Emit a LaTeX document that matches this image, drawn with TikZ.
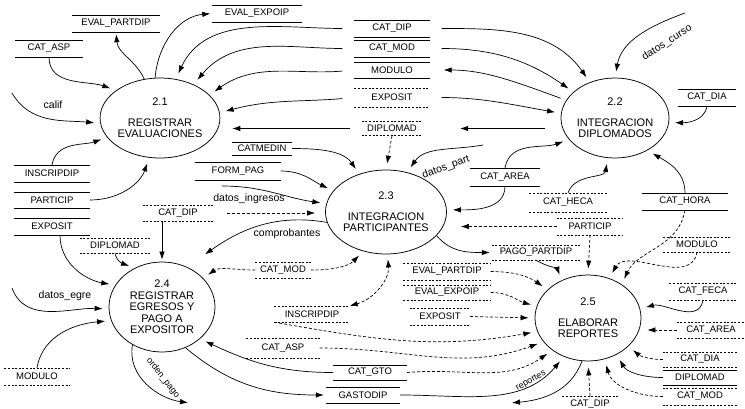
\documentclass[tikz,border=0pt]{standalone}
\usepackage{fontspec}
\setmainfont{Liberation Sans}
\usetikzlibrary{shapes.geometric,arrows.meta}
\newcommand\dfdStoreFont{\fontsize{9.5}{11}\selectfont}
\newcommand\dfdProcFont{\fontsize{11}{11.5}\selectfont}
\newcommand\dfdLblFont{\fontsize{10.5}{12}\selectfont}
\newcommand\dfdSmallFont{\fontsize{9}{10}\selectfont}
\begin{document}
\begin{tikzpicture}[x=1pt,y=1pt,
  sline/.style={line width=0.6pt},
  dline/.style={line width=0.5pt,dash pattern=on 2pt off 1.6pt},
  storebase/.style={font=\dfdStoreFont,inner sep=0pt,minimum height=17,minimum width=#1},
  store/.style={storebase=#1,append after command={(\tikzlastnode.north west) edge[sline] (\tikzlastnode.north east)
      (\tikzlastnode.south west) edge[sline] (\tikzlastnode.south east)}},
  dstore/.style={storebase=#1,append after command={(\tikzlastnode.north west) edge[dline] (\tikzlastnode.north east)
      (\tikzlastnode.south west) edge[dline] (\tikzlastnode.south east)}},
  proc/.style={ellipse,draw,line width=0.75pt,inner sep=0pt,minimum width=106,minimum height=80,align=center,font=\dfdProcFont},
  lbl/.style={font=\dfdLblFont,inner sep=0pt},
  slbl/.style={font=\dfdSmallFont,inner sep=0pt},
  flow/.style={line width=0.7pt,-{Latex[length=8pt,width=5.5pt]},shorten >=2pt},
  dflow/.style={flow,dash pattern=on 3pt off 2pt},
  toP/.style={shorten >=6pt},
  fromS/.style={shorten <=12pt}
]
\useasboundingbox (0,0) rectangle (745,-408);
% processes
\node[proc] (p21) at (160,-118) {2.1\\[9pt]REGISTRAR\\EVALUACIONES};
\node[proc] (p22) at (615,-118) {2.2\\[9pt]INTEGRACION\\DIPLOMADOS};
\node[proc,minimum width=110,minimum height=84] (p23) at (386,-212) {2.3\\[9pt]INTEGRACION\\PARTICIPANTES};
\node[proc,minimum height=90] (p24) at (162,-307) {2.4\\REGISTRAR\\EGRESOS Y\\PAGO A\\EXPOSITOR};
\node[proc,minimum height=86] (p25) at (588,-318) {2.5\\[9pt]ELABORAR\\REPORTES};
% stores top
\node[store=88] (sEvPart) at (116,-23.5) {EVAL\_PARTDIP};
\node[store=89] (sEvExpo) at (257,-13.5) {EVAL\_EXPOIP};
\node[store=68] (sCatAsp) at (49,-48.5) {CAT\_ASP};
\node[store=75] (sCatDipT) at (392,-28.5) {CAT\_DIP};
\node[store=75] (sCatModT) at (392,-48.5) {CAT\_MOD};
\node[store=75,minimum height=16] (sModT) at (392,-70) {MODULO};
\node[dstore=75,minimum height=19] (sExpT) at (392,-97.5) {EXPOSIT};
\node[dstore=60,minimum height=14] (sDipT) at (392,-128.5) {DIPLOMAD};
\node[store=58] (sCatDiaT) at (707,-97.5) {CAT\_DIA};
% stores left
\node[store=75] (sInsL) at (52,-173.5) {INSCRIPDIP};
\node[store=75,minimum height=16] (sParL) at (52,-200) {PARTICIP};
\node[store=75] (sExpL) at (52,-226.5) {EXPOSIT};
\node[dstore=70,minimum height=15] (sDipL) at (115,-245.5) {DIPLOMAD};
\node[dstore=70,minimum height=16] (sCatDipM) at (178,-213) {CAT\_DIP};
\node[store=60,minimum height=13] (sCatMed) at (262,-148.5) {CATMEDIN};
\node[store=85,minimum height=18] (sFormPag) at (238,-171) {FORM\_PAG};
\node[dstore=55,minimum height=16] (sCatModM) at (283,-270) {CAT\_MOD};
\node[dstore=75,minimum height=16] (sInsM) at (312,-314) {INSCRIPDIP};
\node[dstore=73,minimum height=20] (sCatAspM) at (283,-348) {CAT\_ASP};
\node[store=74,minimum height=15] (sCatGto) at (370,-372.5) {CAT\_GTO};
\node[store=74,minimum height=16] (sGasto) at (363,-395) {GASTODIP};
\node[dstore=65] (sModBL) at (37,-376.5) {MODULO};
% stores middle right
\node[store=70,minimum height=18] (sCatAreaM) at (505,-177) {CAT\_AREA};
\node[dstore=77,minimum height=19] (sCatHeca) at (568,-202.5) {CAT\_HECA};
\node[store=85] (sCatHora) at (685,-201.5) {CAT\_HORA};
\node[dstore=66] (sParR) at (590,-226.5) {PARTICIP};
\node[dstore=67,minimum height=15] (sModR) at (697,-244.5) {MODULO};
\node[dstore=88,minimum height=15] (sPago) at (536,-252.5) {PAGO\_PARTDIP};
\node[dstore=87] (sEvPartM) at (447,-271.5) {EVAL\_PARTDIP};
\node[dstore=87,minimum height=15] (sEvExpoM) at (447,-292.5) {EVAL\_EXPOIP};
\node[dstore=60] (sExpM) at (440,-316.5) {EXPOSIT};
% stores right
\node[dstore=67] (sCatFeca) at (703,-291.5) {CAT\_FECA};
\node[dstore=68,minimum height=16] (sCatAreaR) at (711,-330) {CAT\_AREA};
\node[dstore=74,minimum height=15] (sCatDiaR) at (700,-359.5) {CAT\_DIA};
\node[store=74,minimum height=15] (sDipR) at (700,-377.5) {DIPLOMAD};
\node[dstore=74] (sCatModR) at (700,-396.5) {CAT\_MOD};
\node[dstore=55,minimum height=16] (sCatDipB) at (590,-404) {CAT\_DIP};
% free ends
\coordinate (cCalif) at (12,-93);
\coordinate (cDcur) at (685,-13);
\coordinate (cDing) at (222,-186);
\coordinate (cDpart) at (483,-145);
\coordinate (cDegre) at (12,-288);
\coordinate (cOrden) at (190,-403);
\coordinate (cRep) at (510,-403);
% labels
\node[lbl] (lCalif) at (53,-105) {calif};
\node[lbl,rotate=33] (lDcur) at (667,-43) {datos\_curso};
\node[lbl] (lDing) at (249,-199) {datos\_ingresos};
\node[lbl] (lComp) at (287,-234) {comprobantes};
\node[lbl,rotate=20] (lDpart) at (446,-167) {datos\_part};
\node[lbl] (lDegre) at (65,-296) {datos\_egre};
\node[slbl,rotate=-52] (lOrden) at (163,-378) {orden\_pago};
\node[slbl,rotate=30] (lRep) at (531,-381) {reportes};
% flows around 2.1
\draw[flow,toP] (cCalif) to[out=-60,in=175] (p21.185);
\draw[flow,toP] (sCatAsp.south) to[out=-90,in=160] (p21.148);
\draw[flow] (p21.112) to[out=115,in=-85] (sEvPart.south);
\draw[flow] (p21.97) to[out=85,in=185] (sEvExpo.west);
\draw[flow,toP,fromS] (sCatDipT.west) to[out=180,in=65] (p21.68);
\draw[flow,toP,fromS] (sCatModT.west) to[out=180,in=50] (p21.45);
\draw[flow,toP,fromS] (sModT.west) to[out=185,in=35] (p21.25);
\draw[flow,toP,fromS] (sExpT.west) to[out=185,in=15] (p21.5);
\draw[flow,fromS,shorten >=12pt] (sDipT.west) -- (sDipT.west -| p21.east);
\draw[flow,toP] (sInsL.north) to[out=80,in=200] (p21.200);
\draw[flow,toP] (sParL.east) to[out=0,in=-110] (p21.-105);
% flows around 2.2
\draw[flow,toP,fromS] (sCatDipT.east) to[out=0,in=125] (p22.125);
\draw[flow,toP,fromS] (sCatModT.east) to[out=0,in=145] (p22.148);
\draw[flow,shorten <=6pt,shorten >=14pt] (p22.160) to[out=160,in=0] (sModT.east);
\draw[flow,toP,fromS] (sExpT.east) to[out=0,in=170] (p22.175);
\draw[flow,shorten <=16pt,shorten >=38pt] (sDipT.east -| p22.west) -- (sDipT.east);
\draw[flow,toP] (cDcur) to[out=200,in=80] (p22.90);
\draw[flow,toP] (sCatDiaT.south) to[out=-100,in=0] (p22.-5);
\draw[flow,toP] (sCatAreaM.north) to[out=80,in=200] (p22.205);
\draw[flow,toP] (sCatHeca.north) to[out=70,in=-100] (p22.-100);
\draw[flow,toP] (sCatHora.north) to[out=90,in=-30] (p22.-45);
% flows around 2.3
\draw[dflow,toP] (sDipT.south) -- (p23.north);
\draw[dflow,shorten <=14pt,shorten >=10pt] (sCatDipM.east) -- (sCatDipM.east -| p23.west);
\draw[flow,toP] (sCatMed.east) to[out=0,in=125] (p23.125);
\draw[flow,toP] (sFormPag.east) to[out=0,in=155] (p23.158);
\draw[flow,toP] (cDing) to[out=0,in=172] (p23.172);
\draw[flow,shorten >=22pt] (p23.190) to[out=170,in=35] (p24.58);
\draw[dflow,toP] (sCatModM.east) to[out=0,in=-135] (p23.-120);
\draw[dflow,{Latex[length=8pt,width=5.5pt]}-{Latex[length=8pt,width=5.5pt]},shorten >=5pt] (sInsM.north east) to[out=15,in=-85] (p23.-88);
\draw[flow,toP] (cDpart) to[out=190,in=55] (p23.62);
\draw[flow,toP] (sCatAreaM.south) to[out=-90,in=0] (p23.2);
\draw[dflow,shorten >=14pt] (sParR.west) -- (sParR.west -| p23.east);
\draw[flow] (p23.-25) to[out=-50,in=180] (sPago.west);
% flows around 2.4
\draw[flow,toP] ([xshift=8]sExpL.south) to[out=-90,in=170] (p24.155);
\draw[flow,toP] (sDipL.south) to[out=-80,in=160] (p24.125);
\draw[flow] (sCatDipM.south -| p24.north) -- (p24.north);
\draw[dflow,toP] (sCatModM.west) to[out=180,in=35] (p24.35);
\draw[flow,toP] (sCatGto.west) to[out=180,in=-25] (p24.-40);
\draw[flow] (p24.-60) to[out=-40,in=180] (sGasto.west);
\draw[flow] (p24.-128) to[out=-100,in=172] (cOrden);
\draw[flow,toP] (sModBL.north) to[out=80,in=185] (p24.195);
\draw[flow,toP] (cDegre) to[out=-70,in=178] (p24.182);
% flows around 2.5
\draw[dflow,toP] (sCatHora.south) to[out=-100,in=65] (p25.45);
\draw[dflow,toP] (sModR.south) to[out=-100,in=60] (p25.62);
\draw[dflow,toP] (sParR.south) -- (p25.north);
\draw[flow,toP] (sPago.south) to[out=-30,in=110] (p25.125);
\draw[dflow,toP] (sEvPartM.east) to[out=0,in=145] (p25.145);
\draw[dflow,toP] (sEvExpoM.east) to[out=0,in=165] (p25.167);
\draw[dflow,toP] (sExpM.east) -- (p25.180);
\draw[dflow,toP] (sInsM.south west) to[out=-10,in=190] (p25.195);
\draw[dflow,toP] (sCatAspM.east) to[out=0,in=200] (p25.208);
\draw[dflow,toP] (sCatGto.east) to[out=5,in=215] (p25.222);
\draw[flow,toP] (sGasto.east) to[out=0,in=230] (p25.238);
\draw[flow] (p25.-98) to[out=-110,in=5] (cRep);
\draw[flow,toP] (sCatFeca.south) to[out=-100,in=15] (p25.10);
\draw[dflow,toP] (sCatAreaR.west) -- (sCatAreaR.west -| p25.east);
\draw[dflow,toP] (sCatDiaR.west) to[out=180,in=-40] (p25.-35);
\draw[flow,toP] (sDipR.west) to[out=180,in=-60] (p25.-52);
\draw[dflow,toP] (sCatModR.west) to[out=180,in=-75] (p25.-68);
\draw[dflow,toP] (sCatDipB.north) -- (p25.south);
\end{tikzpicture}
\end{document}
